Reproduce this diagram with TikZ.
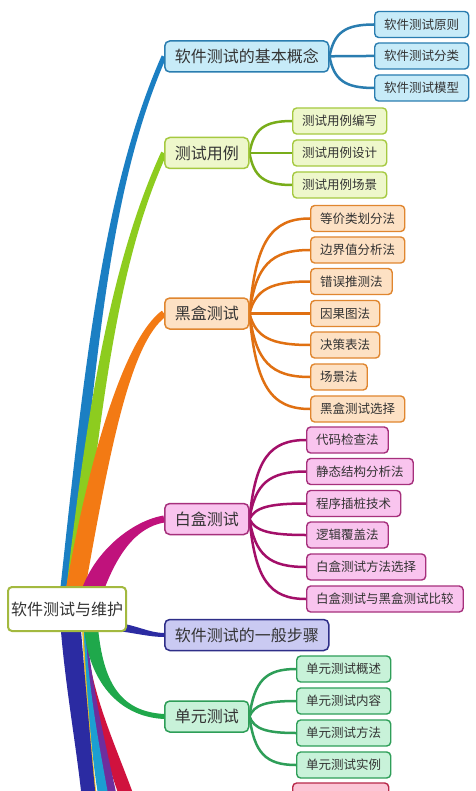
\documentclass[tikz,border=0pt]{standalone}
\usepackage{fontspec}
\newfontfamily\cjk{Noto Sans CJK SC}
\usetikzlibrary{calc}
\pgfdeclarelayer{background}
\pgfsetlayers{background,main}
\definecolor{txt}{HTML}{333333}
\definecolor{blF}{HTML}{C7EBF8}\definecolor{blL}{HTML}{2A7DB0}\definecolor{blB}{HTML}{1B7FC3}
\definecolor{ygF}{HTML}{EEF7CB}\definecolor{ygL}{HTML}{A5C940}\definecolor{ygB}{HTML}{8DCC1F}
\definecolor{orF}{HTML}{FDE1C4}\definecolor{orL}{HTML}{E0862F}\definecolor{orB}{HTML}{F37A14}
\definecolor{pkF}{HTML}{F9C4EE}\definecolor{pkL}{HTML}{A6307C}\definecolor{pkB}{HTML}{C0127C}
\definecolor{nvF}{HTML}{CACAF2}\definecolor{nvL}{HTML}{2E2E88}\definecolor{nvB}{HTML}{2B2BA2}
\definecolor{grF}{HTML}{C8F2D9}\definecolor{grL}{HTML}{2E9E58}\definecolor{grB}{HTML}{1FA84B}
\definecolor{rdF}{HTML}{FCC6D6}\definecolor{rdL}{HTML}{B8294A}\definecolor{rdB}{HTML}{D0123E}
\definecolor{puB}{HTML}{6E2E9E}\definecolor{cyB}{HTML}{1C9FD2}\definecolor{yeB}{HTML}{F0BE22}
\definecolor{rootL}{HTML}{A3B93F}

% tapered branch: colour, start, control1, control2, end, half width at start, half width at end
\newcommand\branchfill[7]{%
  \coordinate (tS) at #2; \coordinate (tA) at #3; \coordinate (tB) at #4; \coordinate (tE) at #5;
  \coordinate (tSL) at ($(tS)!#6!90:(tA)$);
  \coordinate (tSR) at ($(tS)!#6!-90:(tA)$);
  \coordinate (tEL) at ($(tE)!#7!-90:(tB)$);
  \coordinate (tER) at ($(tE)!#7!90:(tB)$);
  \fill[#1] (tSL) .. controls ($(tA)+(tSL)-(tS)$) and ($(tB)+(tEL)-(tE)$) .. (tEL)
     -- (tER) .. controls ($(tB)+(tER)-(tE)$) and ($(tA)+(tSR)-(tS)$) .. (tSR) -- cycle;
}

\begin{document}
\begin{tikzpicture}[x=1pt,y=-1pt,
  rootbox/.style={draw=rootL, fill=white, line width=2pt, rounded corners=4pt,
    minimum width=118pt, minimum height=44pt, inner sep=0pt, text=txt,
    font=\cjk\fontsize{16}{18}\selectfont},
  lone/.style={draw, line width=1.5pt, rounded corners=5pt, minimum height=31pt,
    inner xsep=10pt, inner ysep=0pt, anchor=west, text=txt,
    font=\cjk\fontsize{16}{18}\selectfont},
  ltwo/.style={draw, line width=1.4pt, rounded corners=4pt, minimum height=26pt,
    inner xsep=9.5pt, inner ysep=0pt, anchor=west, text=txt,
    font=\cjk\fontsize{12.5}{14}\selectfont},
  gBl/.style={fill=blF, draw=blL}, gYg/.style={fill=ygF, draw=ygL},
  gOr/.style={fill=orF, draw=orL}, gPk/.style={fill=pkF, draw=pkL},
  gNv/.style={fill=nvF, draw=nvL}, gGr/.style={fill=grF, draw=grL},
  gRd/.style={fill=rdF, draw=rdL},
  kline/.style={line width=2.5pt},
  kid/.style={to path={let \p1=(\tikztostart), \p2=(\tikztotarget) in
    .. controls ({\x1+0.1*(\x2-\x1)}, {\y1+0.75*(\y2-\y1)}) and ({\x2-0.65*(\x2-\x1)}, \y2) .. (\tikztotarget)}}
]
\useasboundingbox (0,0) rectangle (475,791);

% root and main topics
\node[rootbox] (r) at (67,609) {软件测试与维护};
\node[lone,gBl] (b1) at (164,56.5) {软件测试的基本概念};
\node[lone,gYg] (b2) at (164,153) {测试用例};
\node[lone,gOr] (b3) at (164,313.5) {黑盒测试};
\node[lone,gPk] (b4) at (164,519) {白盒测试};
\node[lone,gNv] (b5) at (164,635) {软件测试的一般步骤};
\node[lone,gGr] (b6) at (164,716.5) {单元测试};

% sub topics
\foreach \t/\y [count=\i] in {软件测试原则/24.5, 软件测试分类/56, 软件测试模型/88}
  \node[ltwo,gBl] (k1-\i) at (374,\y) {\t};
\foreach \t/\y [count=\i] in {测试用例编写/121, 测试用例设计/153, 测试用例场景/185}
  \node[ltwo,gYg] (k2-\i) at (292,\y) {\t};
\foreach \t/\y [count=\i] in {等价类划分法/218.5, 边界值分析法/250, 错误推测法/281.5, 因果图法/313.5, 决策表法/345, 场景法/377, 黑盒测试选择/409}
  \node[ltwo,gOr] (k3-\i) at (310,\y) {\t};
\foreach \t/\y [count=\i] in {代码检查法/440, 静态结构分析法/471.5, 程序插桩技术/503.5, 逻辑覆盖法/535, 白盒测试方法选择/567, 白盒测试与黑盒测试比较/599}
  \node[ltwo,gPk] (k4-\i) at (306,\y) {\t};
\foreach \t/\y [count=\i] in {单元测试概述/669, 单元测试内容/701, 单元测试方法/733, 单元测试实例/765}
  \node[ltwo,gGr] (k6-\i) at (296,\y) {\t};
\node[ltwo,gRd,minimum width=96pt] (k7-1) at (292,796) {};

\begin{pgfonlayer}{background}
\fill[white] (0,0) rectangle (475,791);
% branches leaving the bottom of the picture
\branchfill{rdB}{(85,631)}{(88,690)}{(108,745)}{(128,800)}{1pt}{7pt}
\branchfill{puB}{(85,631)}{(92,700)}{(105,760)}{(113,800)}{1.5pt}{4.5pt}
\branchfill{cyB}{(84,631)}{(88,700)}{(97,760)}{(104,800)}{1.5pt}{5pt}
\branchfill{yeB}{(83,631)}{(86,700)}{(92,760)}{(96,800)}{0.7pt}{1pt}
\branchfill{nvB}{(71,631)}{(76,690)}{(84,750)}{(89,800)}{10pt}{7pt}
% main branches
\branchfill{blB}{(66,592)}{(90,370)}{(105,190)}{(b1.west)}{6pt}{2.5pt}
\branchfill{ygB}{(73,592)}{(95,400)}{(115,260)}{(b2.west)}{7pt}{3pt}
\branchfill{orB}{(75,592)}{(100,450)}{(128,340)}{(b3.west)}{9.5pt}{3.5pt}
\branchfill{pkB}{(92,592)}{(106,553)}{(134,524)}{(b4.west)}{10.5pt}{3.5pt}
\branchfill{nvB}{(118,627)}{(135,629)}{(150,635)}{(b5.west)}{4pt}{2pt}
\branchfill{grB}{(91,628)}{(96,680)}{(118,714)}{(b6.west)}{7pt}{2.5pt}
% sub-topic connectors
\foreach \i in {1,2,3} \draw[kline,blL] (b1.east) to[kid] (k1-\i.west);
\foreach \i in {1,2,3} \draw[kline,ygB!85!black] (b2.east) to[kid] (k2-\i.west);
\foreach \i in {1,...,7} \draw[kline,orB!92!black] (b3.east) to[kid] (k3-\i.west);
\foreach \i in {1,...,6} \draw[kline,pkB!85!black] (b4.east) to[kid] (k4-\i.west);
\foreach \i in {1,...,4} \draw[kline,grL] (b6.east) to[kid] (k6-\i.west);
\end{pgfonlayer}
\end{tikzpicture}
\end{document}
